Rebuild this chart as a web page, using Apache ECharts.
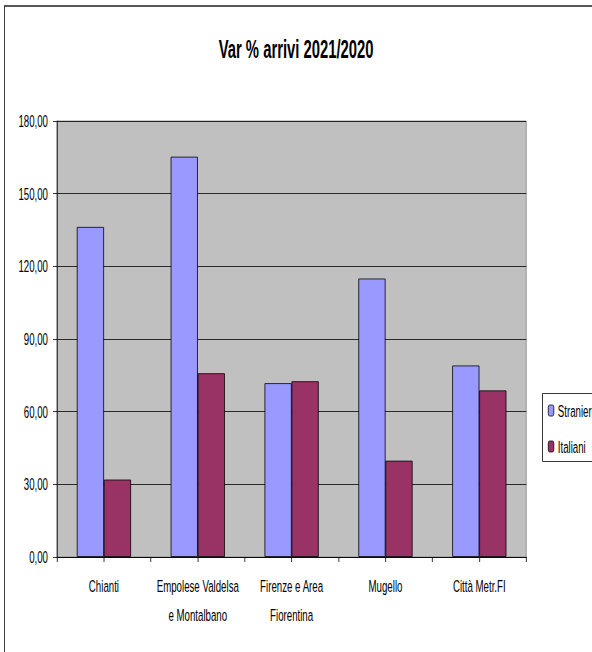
<!DOCTYPE html>
<html>
<head>
<meta charset="utf-8">
<script src="https://cdn.jsdelivr.net/npm/echarts@6/dist/echarts.min.js"></script>
<style>
html,body{margin:0;padding:0;background:#fff;width:592px;height:652px;overflow:hidden;}
#chart{height:652px;transform-origin:0 0;}
#chart svg path, #chart svg rect, #chart svg line{vector-effect:non-scaling-stroke;}
</style>
</head>
<body>
<div id="chart"></div>
<script>
var titleText = 'Var % arrivi 2021/2020';
var categories = ['Chianti', 'Empolese Valdelsa\ne Montalbano', 'Firenze e Area\nFiorentina', 'Mugello', 'Città Metr.FI'];
var seriesNames = ['Stranieri', 'Italiani'];
var stranieri = [136.3, 165.3, 71.8, 115.0, 79.1];
var italiani = [32.0, 75.9, 72.6, 39.8, 68.8];
var yTicks = [0, 30, 60, 90, 120, 150, 180];

// The reference uses horizontally condensed Arial text; reproduce by drawing
// wider and condensing the whole drawing horizontally.
var SX = 0.57;
function hx(v) { return v / SX; }   // convert a final horizontal px size to drawing units

var FONT = "'Liberation Sans', Arial, sans-serif";

var el = document.getElementById('chart');
el.style.width = hx(592) + 'px';
el.style.transform = 'scaleX(' + SX + ')';

var chart = echarts.init(el, null, {renderer: 'svg'});
chart.setOption({
  backgroundColor: '#ffffff',
  animation: false,
  title: {
    text: titleText,
    left: 'center',
    top: 31,
    textStyle: {fontFamily: FONT, fontSize: 26, fontWeight: 'bold', color: '#000'}
  },
  graphic: [
    {type: 'rect', z: 0, silent: true, shape: {x: hx(4.5), y: 6, width: hx(800), height: 800},
     style: {fill: 'none', stroke: '#222', lineWidth: 1.5}},
    {type: 'rect', z: 0, silent: true, shape: {x: hx(542.5), y: 393.5, width: hx(100), height: 68},
     style: {fill: '#fff', stroke: '#000', lineWidth: 1}}
  ],
  legend: {
    orient: 'vertical',
    left: hx(548),
    top: 402,
    padding: 0,
    itemWidth: hx(5.5),
    itemHeight: 11,
    itemGap: 19,
    data: seriesNames,
    itemStyle: {borderColor: '#000', borderWidth: 1},
    textStyle: {fontFamily: FONT, fontSize: 17, lineHeight: 17, color: '#000', padding: [0, 0, 0, 2]}
  },
  grid: {
    left: hx(57), right: hx(66), top: 121, bottom: 95,
    show: true, backgroundColor: '#C0C0C0', borderColor: '#808080', borderWidth: 1
  },
  xAxis: [{
    type: 'category',
    data: categories,
    position: 'bottom',
    axisLine: {show: true, lineStyle: {color: '#000', width: 1}},
    axisTick: {show: true, alignWithLabel: false, length: 5, lineStyle: {color: '#000'}},
    axisLabel: {fontFamily: FONT, fontSize: 17, color: '#000', margin: 14, lineHeight: 29, interval: 0}
  }, {
    type: 'category',
    data: categories,
    position: 'bottom',
    axisLine: {show: false},
    axisTick: {show: true, alignWithLabel: true, length: 5, lineStyle: {color: '#000'}},
    axisLabel: {show: false}
  }],
  yAxis: {
    type: 'value',
    min: yTicks[0],
    max: yTicks[yTicks.length - 1],
    interval: 30,
    axisLine: {show: true, lineStyle: {color: '#000', width: 1}},
    axisTick: {show: true, length: hx(4), lineStyle: {color: '#000'}},
    splitLine: {show: true, lineStyle: {color: '#000', width: 1}},
    axisLabel: {
      fontFamily: FONT, fontSize: 17, color: '#000', margin: hx(9),
      formatter: function (v) { return v.toFixed(2).replace('.', ','); }
    }
  },
  series: [{
    name: seriesNames[0], type: 'bar', data: stranieri, barWidth: hx(27), barGap: '0%',
    itemStyle: {color: '#9999FF', borderColor: '#000', borderWidth: 1}
  }, {
    name: seriesNames[1], type: 'bar', data: italiani, barWidth: hx(27), barGap: '0%',
    itemStyle: {color: '#993366', borderColor: '#000', borderWidth: 1}
  }]
});
</script>
</body>
</html>
